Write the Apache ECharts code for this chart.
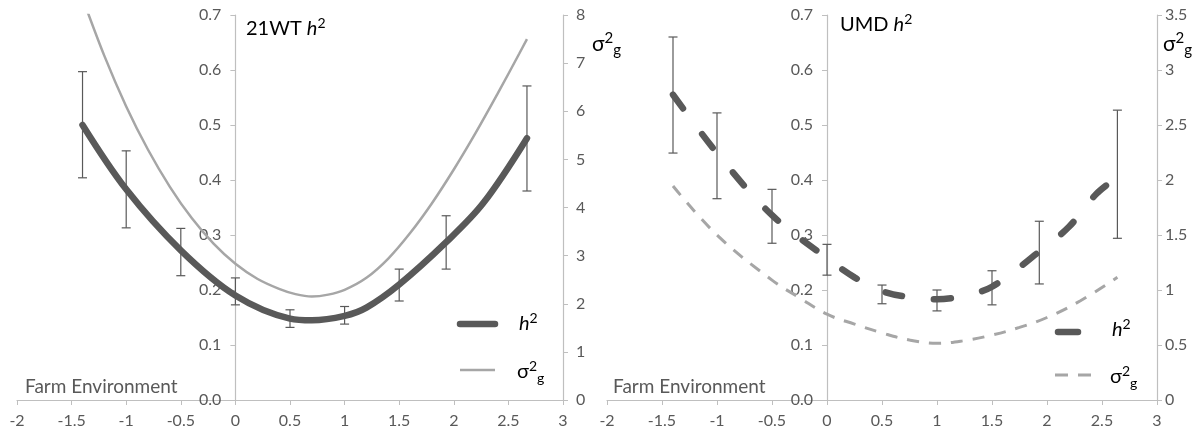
<!DOCTYPE html>
<html>
<head>
<meta charset="utf-8">
<script src="https://cdn.jsdelivr.net/npm/echarts@6/dist/echarts.min.js"></script>
<style>
  html, body { margin: 0; padding: 0; background: #fff; }
  #chart { width: 1202px; height: 434px; }
</style>
</head>
<body>
<div id="chart"></div>
<script>
// x ticks (Farm Environment)
var xTicks = [-2, -1.5, -1, -0.5, 0, 0.5, 1, 1.5, 2, 2.5, 3];

// ---- 21WT panel ----
var wtPointX = [-1.4, -1, -0.5, 0, 0.5, 1, 1.5, 1.93, 2.67];
var wtErrLow = [0.404, 0.313, 0.226, 0.173, 0.132, 0.138, 0.18, 0.238, 0.38];
var wtErrHigh = [0.597, 0.453, 0.312, 0.222, 0.164, 0.17, 0.238, 0.335, 0.571];
var wtH2X = [-1.4, -1, -0.5, 0, 0.5, 0.7, 1, 1.2, 1.5, 1.93, 2.27, 2.67];
var wtH2 = [0.5, 0.383, 0.272, 0.19, 0.148, 0.145, 0.153, 0.168, 0.21, 0.287, 0.358, 0.476];
var wtSgX = [-1.4, -1.2, -1, -0.8, -0.6, -0.4, -0.2, 0, 0.2, 0.4, 0.55, 0.7, 0.85, 1, 1.2, 1.4, 1.6, 1.8, 2, 2.2, 2.4, 2.6, 2.67];
var wtSg = [8.35, 7.15, 6.1, 5.2, 4.43, 3.78, 3.25, 2.83, 2.52, 2.31, 2.2, 2.15, 2.19, 2.29, 2.54, 2.94, 3.47, 4.09, 4.79, 5.55, 6.36, 7.2, 7.5];

// ---- UMD panel ----
var umdPointX = [-1.4, -1, -0.5, 0, 0.5, 1, 1.5, 1.93, 2.64];
var umdErrLow = [0.449, 0.366, 0.285, 0.227, 0.175, 0.162, 0.173, 0.211, 0.294];
var umdErrHigh = [0.66, 0.522, 0.383, 0.283, 0.209, 0.2, 0.235, 0.325, 0.527];
var umdH2X = [-1.4, -1, -0.5, 0, 0.25, 0.5, 0.75, 1, 1.25, 1.5, 1.93, 2.2, 2.45, 2.64];
var umdH2 = [0.555, 0.449, 0.336, 0.258, 0.223, 0.198, 0.187, 0.183, 0.19, 0.206, 0.27, 0.315, 0.375, 0.405];
var umdSgX = [-1.4, -1, -0.5, -0.25, 0, 0.25, 0.5, 0.75, 1, 1.25, 1.5, 1.75, 2, 2.3, 2.64];
var umdSg = [1.945, 1.5, 1.09, 0.93, 0.78, 0.69, 0.61, 0.545, 0.515, 0.54, 0.59, 0.66, 0.75, 0.9, 1.115];

var FONT = 'Lato, "Open Sans", sans-serif';
var TXT = '#595959';
var AXIS = '#bfbfbf';
var DARK = '#595959';
var LIGHT = '#a6a6a6';

function pairs(xs, ys) {
  var out = [];
  for (var i = 0; i < xs.length; i++) out.push([xs[i], ys[i]]);
  return out;
}
function triples(xs, lo, hi) {
  var out = [];
  for (var i = 0; i < xs.length; i++) out.push([xs[i], lo[i], hi[i]]);
  return out;
}

function errRender(params, api) {
  var x = api.value(0);
  var top = api.coord([x, api.value(2)]);
  var bot = api.coord([x, api.value(1)]);
  var w = 4.5;
  var st = { stroke: DARK, lineWidth: 1.2 };
  return {
    type: 'group',
    children: [
      { type: 'line', shape: { x1: top[0], y1: top[1], x2: bot[0], y2: bot[1] }, style: st },
      { type: 'line', shape: { x1: top[0] - w, y1: top[1], x2: top[0] + w, y2: top[1] }, style: st },
      { type: 'line', shape: { x1: bot[0] - w, y1: bot[1], x2: bot[0] + w, y2: bot[1] }, style: st }
    ]
  };
}

function xAxisOf(gi) {
  return {
    type: 'value', gridIndex: gi, min: -2, max: 3, interval: 0.5,
    axisLine: { onZero: false, lineStyle: { color: AXIS, width: 1.2 } },
    axisTick: { show: true, length: 5, lineStyle: { color: AXIS } },
    axisLabel: { color: TXT, fontSize: 16, fontFamily: FONT, margin: 13 },
    splitLine: { show: false }
  };
}
// left axis sits at x = 0, i.e. 2 units right of the grid edge
function leftY(gi, shift) {
  return {
    type: 'value', gridIndex: gi, position: 'left', offset: -shift, min: 0, max: 0.7, interval: 0.1,
    axisLine: { show: true, onZero: false, lineStyle: { color: AXIS, width: 1.2 } },
    axisTick: { show: true, length: 5, lineStyle: { color: AXIS } },
    axisLabel: { color: TXT, fontSize: 16, fontFamily: FONT, margin: 14,
      formatter: function (v) { return v.toFixed(1); } },
    splitLine: { show: false }
  };
}
function rightY(gi, max, interval, margin) {
  return {
    type: 'value', gridIndex: gi, position: 'right', min: 0, max: max, interval: interval,
    axisLine: { show: true, onZero: false, lineStyle: { color: AXIS, width: 1.2 } },
    axisTick: { show: true, length: 5, lineStyle: { color: AXIS } },
    axisLabel: { color: TXT, fontSize: 16, fontFamily: FONT, margin: margin },
    splitLine: { show: false }
  };
}

// rich text styles for h² and σ²g
function richSet(size) {
  var small = Math.round(size * 0.7);
  return {
    n: { fontSize: size, fontFamily: FONT, color: TXT, lineHeight: size + 6 },
    i: { fontSize: size, fontFamily: FONT, color: TXT, fontStyle: 'italic', lineHeight: size + 6 },
    sup: { fontSize: small, fontFamily: FONT, color: TXT, lineHeight: small, verticalAlign: 'top' },
    sub: { fontSize: small, fontFamily: FONT, color: TXT, lineHeight: small, verticalAlign: 'bottom' }
  };
}
function label(x, y, text, size) {
  return {
    type: 'text', x: x, y: y, z: 100,
    style: { text: text, rich: richSet(size), align: 'left', verticalAlign: 'middle' }
  };
}
function plainText(x, y, text, size) {
  return {
    type: 'text', x: x, y: y, z: 100,
    style: { text: text, fontSize: size, fontFamily: FONT, fill: TXT, align: 'left', verticalAlign: 'middle' }
  };
}
function legendLine(x1, x2, y, color, width, dash, cap) {
  return {
    type: 'line', z: 100,
    shape: { x1: x1, y1: y, x2: x2, y2: y },
    style: { stroke: color, lineWidth: width, lineDash: dash || null, lineCap: cap || 'butt' }
  };
}

var chart = echarts.init(document.getElementById('chart'));
var option = {
  animation: false,
  backgroundColor: '#fff',
  grid: [
    { left: 17, top: 15, width: 546, height: 385, outerBoundsMode: 'none', containLabel: false },
    { left: 607, top: 15, width: 550, height: 385, outerBoundsMode: 'none', containLabel: false }
  ],
  xAxis: [xAxisOf(0), xAxisOf(1)],
  yAxis: [leftY(0, 546 * 2 / 5), rightY(0, 8, 1, 13), leftY(1, 550 * 2 / 5), rightY(1, 3.5, 0.5, 8)],
  series: [
    {
      name: 'σ2g 21WT', type: 'line', xAxisIndex: 0, yAxisIndex: 1,
      data: pairs(wtSgX, wtSg), smooth: 0.3, symbol: 'none', clip: true,
      lineStyle: { color: LIGHT, width: 2.5 }
    },
    {
      name: 'h2 21WT', type: 'line', xAxisIndex: 0, yAxisIndex: 0,
      data: pairs(wtH2X, wtH2), smooth: 0.35, symbol: 'none',
      lineStyle: { color: DARK, width: 6.5, cap: 'round', join: 'round' }
    },
    {
      name: 'err 21WT', type: 'custom', xAxisIndex: 0, yAxisIndex: 0,
      data: triples(wtPointX, wtErrLow, wtErrHigh), renderItem: errRender, z: 5
    },
    {
      name: 'σ2g UMD', type: 'line', xAxisIndex: 1, yAxisIndex: 3,
      data: pairs(umdSgX, umdSg), smooth: 0.4, symbol: 'none',
      lineStyle: { color: LIGHT, width: 3, type: [12, 10] }
    },
    {
      name: 'h2 UMD', type: 'line', xAxisIndex: 1, yAxisIndex: 2,
      data: pairs(umdH2X, umdH2), smooth: 0.35, symbol: 'none',
      lineStyle: { color: DARK, width: 6.5, type: [17, 32], cap: 'round' }
    },
    {
      name: 'err UMD', type: 'custom', xAxisIndex: 1, yAxisIndex: 2,
      data: triples(umdPointX, umdErrLow, umdErrHigh), renderItem: errRender, z: 5
    }
  ],
  graphic: [
    // panel titles
    label(246, 29, '{n|21WT }{i|h}{sup|2}', 20),
    label(840, 25, '{n|UMD }{i|h}{sup|2}', 20),
    // right axis names
    label(592, 44, '{n|σ}{sup|2}{sub|g}', 21),
    label(1163, 44, '{n|σ}{sup|2}{sub|g}', 21),
    // x axis names
    plainText(25, 387, 'Farm Environment', 19),
    plainText(613, 387, 'Farm Environment', 19),
    // legend 21WT
    legendLine(460, 495, 324, DARK, 6.5, null, 'round'),
    label(519, 324, '{i|h}{sup|2}', 20),
    legendLine(460, 495, 370, LIGHT, 2.5),
    label(517, 372, '{n|σ}{sup|2}{sub|g}', 20),
    // legend UMD
    legendLine(1058, 1078, 332, DARK, 6.5, null, 'round'),
    label(1112, 330, '{i|h}{sup|2}', 20),
    legendLine(1055, 1092, 375, LIGHT, 3, [13, 10]),
    label(1110, 377, '{n|σ}{sup|2}{sub|g}', 20)
  ]
};
chart.setOption(option);
</script>
</body>
</html>
